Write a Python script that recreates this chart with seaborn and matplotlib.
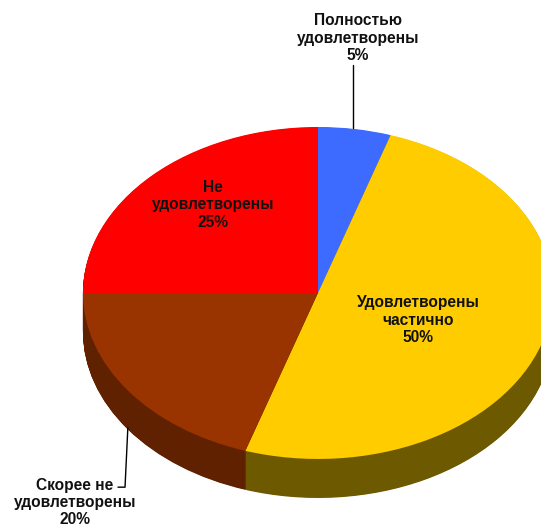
import numpy as np
import matplotlib.pyplot as plt
import seaborn as sns

# slices, clockwise from 12 o'clock
labels = ['Полностью\nудовлетворены', 'Удовлетворены\nчастично',
          'Скорее не\nудовлетворены', 'Не\nудовлетворены']
shares = [5, 50, 20, 25]
top_colors = ['#3d6bff', '#ffcc00', '#993300', '#ff0000']
side_colors = ['#2a4ab0', '#6c5900', '#5f2100', '#a00000']

# label text anchors (data units of the unit pie)
label_pos = [(0.17, 1.536), (0.426, -0.163), (-1.034, -1.262), (-0.447, 0.53)]


def make_chart():
    sns.set_style('white')
    plt.rcParams['font.family'] = ['Liberation Sans', 'DejaVu Sans']

    fig = plt.figure(figsize=(5.41, 5.29), dpi=100)
    ax = fig.add_axes([0, 0, 1, 1])

    # side wall: stack of darker pies shifted down
    depth = 0.235
    for k in np.linspace(depth, 0, 70, endpoint=False):
        ax.pie(shares, colors=side_colors, startangle=90, counterclock=False,
               center=(0, -k), radius=1, wedgeprops=dict(linewidth=0))
    ax.pie(shares, colors=top_colors, startangle=90, counterclock=False,
           radius=1, wedgeprops=dict(linewidth=0))

    # squash the circle into the tilted ellipse
    ax.set_aspect('auto')
    ax.set_xlim(-1.353, 0.949)
    ax.set_ylim(-1.422, 1.765)
    ax.axis('off')

    for lab, val, (x, y) in zip(labels, shares, label_pos):
        ax.text(x, y, f'{lab}\n{val}%', ha='center', va='center',
                multialignment='center', fontsize=11.2, fontweight='bold',
                color='#111111', linespacing=1.2)

    # leader lines
    ax.plot([0.149, 0.149], [1.373, 0.994], color='black', lw=1)
    ax.plot([-0.809, -0.821, -0.851], [-0.813, -1.17, -1.17], color='black', lw=1)

    fig.savefig('out.png', dpi=100)
    plt.close(fig)


if __name__ == '__main__':
    make_chart()
